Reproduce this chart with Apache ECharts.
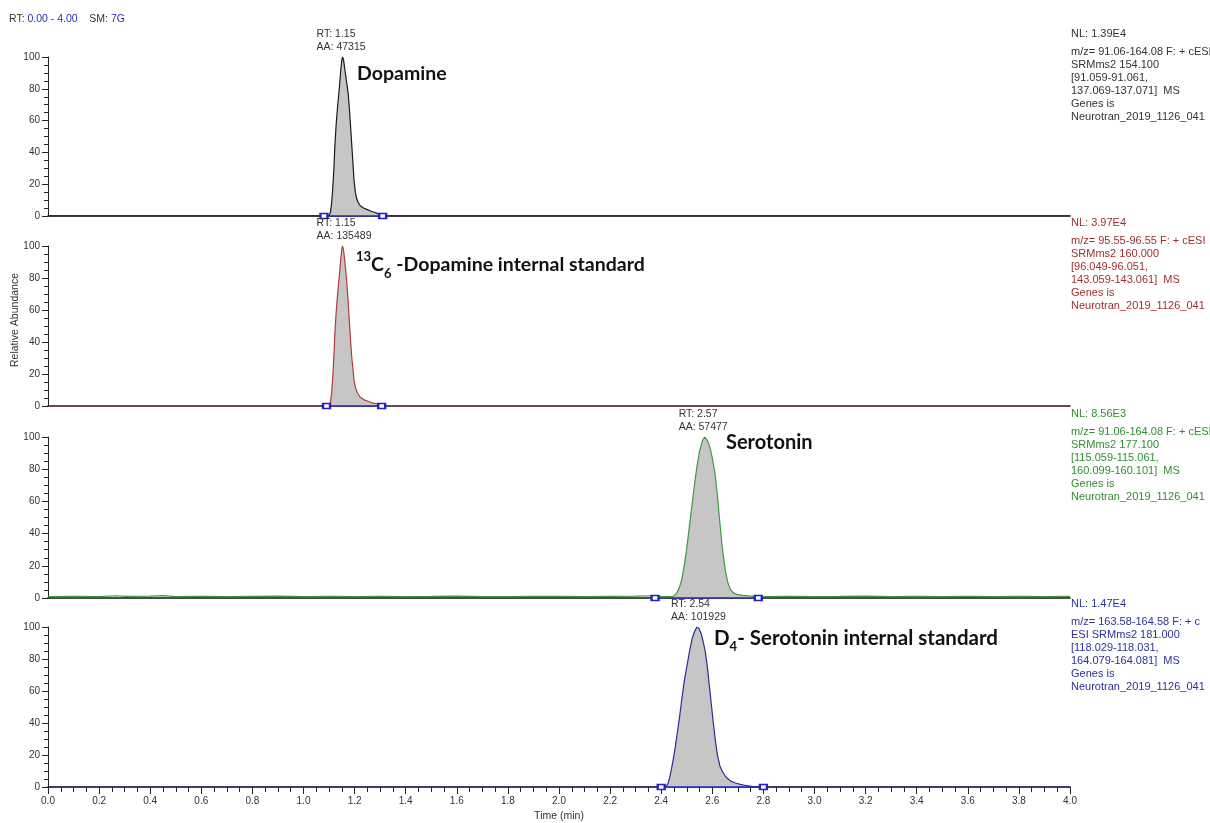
<!DOCTYPE html>
<html>
<head>
<meta charset="utf-8">
<script src="https://cdn.jsdelivr.net/npm/echarts@6/dist/echarts.min.js"></script>
<style>
html,body{margin:0;padding:0;background:#fff;}
#chart{width:1210px;height:823px;}
</style>
</head>
<body>
<div id="chart"></div>
<script>
// ---------------- data ----------------
const xTickLabels = ['0.0','0.2','0.4','0.6','0.8','1.0','1.2','1.4','1.6','1.8','2.0','2.2','2.4','2.6','2.8','3.0','3.2','3.4','3.6','3.8','4.0'];
const yTickLabels = ['0','20','40','60','80','100'];

const dopamineTrace = [[0,0],[1.098,0],[1.105,2],[1.110,8],[1.114,16],[1.119,30],[1.123,45],[1.128,58],[1.134,70],[1.140,80],[1.146,92],[1.150,98],[1.153,100],[1.157,98],[1.162,92],[1.168,85],[1.175,77],[1.181,64],[1.186,52],[1.190,42],[1.194,32],[1.198,22],[1.203,15],[1.208,11],[1.214,8.5],[1.222,6.5],[1.235,5],[1.250,4],[1.265,3],[1.280,2.2],[1.292,1.5],[1.302,0.8],[1.315,0],[4,0]];

const dopamineISTrace = [[0,0],[1.098,0],[1.105,2],[1.110,8],[1.114,17],[1.119,31],[1.123,46],[1.128,59],[1.134,71],[1.140,81],[1.146,92],[1.150,98],[1.153,100],[1.157,97],[1.162,90],[1.168,80],[1.174,67],[1.179,54],[1.183,44],[1.188,32],[1.193,24],[1.198,16],[1.204,11],[1.212,8],[1.222,5.5],[1.235,4],[1.252,3],[1.268,2],[1.286,1.4],[1.300,0.6],[1.312,0],[4,0]];

const serotoninTrace = [[0,0.9],[0.1,1.0],[0.2,0.8],[0.27,1.4],[0.3,1.0],[0.4,1.2],[0.45,1.5],[0.5,0.9],[0.6,1.1],[0.7,0.8],[0.8,1.0],[0.9,1.2],[1.0,0.9],[1.1,1.0],[1.2,0.8],[1.3,1.1],[1.4,0.9],[1.5,1.0],[1.6,1.2],[1.7,0.8],[1.8,0.9],[1.9,1.1],[2.0,1.0],[2.1,0.8],[2.2,1.0],[2.3,1.2],[2.37,1.4],[2.40,1.0],[2.44,0.8],[2.450,1.2],[2.460,3],[2.470,6],[2.480,11],[2.490,20],[2.500,31],[2.510,44],[2.520,57],[2.530,70],[2.540,82],[2.550,91],[2.560,97],[2.570,100],[2.580,98],[2.590,94],[2.600,87],[2.610,78],[2.620,64],[2.630,46],[2.640,30],[2.650,18],[2.660,10],[2.670,5.5],[2.680,3.5],[2.690,2.6],[2.700,2.1],[2.720,1.6],[2.740,1.3],[2.760,1.2],[2.780,1.0],[2.80,0.8],[2.9,1.1],[3.0,0.9],[3.1,1.0],[3.2,1.2],[3.3,0.8],[3.4,1.0],[3.5,0.9],[3.6,1.1],[3.7,0.8],[3.8,1.0],[3.9,0.9],[4.0,1.0]];

const serotoninISTrace = [[0,0],[2.415,0],[2.425,1.5],[2.432,5],[2.440,11],[2.448,18],[2.456,26],[2.464,35],[2.472,44],[2.480,54],[2.490,66],[2.500,75],[2.510,84],[2.520,92],[2.530,97],[2.540,100],[2.548,99],[2.556,96],[2.564,91],[2.572,85],[2.580,76],[2.588,64],[2.596,52],[2.604,40],[2.612,29],[2.620,20],[2.630,13],[2.640,9.5],[2.650,7],[2.662,5],[2.675,3.5],[2.690,2.5],[2.710,1.6],[2.735,0.8],[2.760,0.3],[2.780,0],[4,0]];

const peakRT = [1.15, 1.15, 2.57, 2.54];
const peakApex = [1.153, 1.153, 2.570, 2.540];
const peakArea = [47315, 135489, 57477, 101929];
const integrationStart = [1.08, 1.09, 2.376, 2.40];
const integrationEnd = [1.31, 1.306, 2.78, 2.80];

const compoundNames = ['Dopamine', '13C6 -Dopamine internal standard', 'Serotonin', 'D4- Serotonin internal standard'];
const nlValues = ['1.39E4', '3.97E4', '8.56E3', '1.47E4'];
const scanInfo = [
  ['m/z= 91.06-164.08 F: + cESI', 'SRMms2 154.100', '[91.059-91.061,', '137.069-137.071]  MS', 'Genes is', 'Neurotran_2019_1126_041'],
  ['m/z= 95.55-96.55 F: + cESI', 'SRMms2 160.000', '[96.049-96.051,', '143.059-143.061]  MS', 'Genes is', 'Neurotran_2019_1126_041'],
  ['m/z= 91.06-164.08 F: + cESI', 'SRMms2 177.100', '[115.059-115.061,', '160.099-160.101]  MS', 'Genes is', 'Neurotran_2019_1126_041'],
  ['m/z= 163.58-164.58 F: + c', 'ESI SRMms2 181.000', '[118.029-118.031,', '164.079-164.081]  MS', 'Genes is', 'Neurotran_2019_1126_041']
];
const traces = [dopamineTrace, dopamineISTrace, serotoninTrace, serotoninISTrace];

// ---------------- layout / styles ----------------
const traceColors = ['#1a1a1a', '#b03c3c', '#3c9a3c', '#2b2b9c'];
const infoColors = ['#333333', '#9c2f2f', '#2f8f2f', '#2f2f9c'];
const gridTops = [57, 246, 437, 627];
const gridHeights = [159, 160, 161, 160];
const smallFont = 'Liberation Sans, Arial, sans-serif';
const titleFont = 'Lato, "Open Sans", sans-serif';

const chart = echarts.init(document.getElementById('chart'));

const grids = [], xAxes = [], yAxes = [], series = [], graphics = [];

for (let i = 0; i < 4; i++) {
  grids.push({left: 48, right: 140, top: gridTops[i], height: gridHeights[i], containLabel: false});
  const isBottom = i === 3;
  xAxes.push({
    type: 'value', gridIndex: i, min: 0, max: 4, interval: 0.2,
    axisLine: {show: true, onZero: false, lineStyle: {color: '#111', width: 1.6}},
    axisTick: {show: isBottom, length: 7, lineStyle: {color: '#222', width: 1}},
    minorTick: {show: isBottom, splitNumber: 4, length: 5, lineStyle: {color: '#222', width: 1}},
    axisLabel: {show: isBottom, fontSize: 10, color: '#333', fontFamily: smallFont, margin: 9,
      formatter: (v) => xTickLabels[Math.round(v / 0.2)] || ''},
    splitLine: {show: false},
    name: isBottom ? 'Time (min)' : '', nameLocation: 'middle', nameGap: 24,
    nameTextStyle: {fontSize: 10.5, color: '#333', fontFamily: smallFont}
  });
  yAxes.push({
    type: 'value', gridIndex: i, min: 0, max: 100, interval: 20,
    axisLine: {show: true, lineStyle: {color: '#222', width: 1}},
    axisTick: {show: true, length: 6, lineStyle: {color: '#222'}},
    minorTick: {show: true, splitNumber: 4, length: 4, lineStyle: {color: '#222'}},
    axisLabel: {fontSize: 10, color: '#333', fontFamily: smallFont, margin: 8,
      formatter: (v) => yTickLabels[Math.round(v / 20)]},
    splitLine: {show: false}
  });

  const tr = traces[i];
  const fillData = tr.filter(p => p[0] >= integrationStart[i] && p[0] <= integrationEnd[i]);
  fillData.unshift([integrationStart[i], 0]);
  fillData.push([integrationEnd[i], 0]);
  series.push({
    type: 'line', xAxisIndex: i, yAxisIndex: i, data: fillData, symbol: 'none',
    lineStyle: {width: 0}, areaStyle: {color: '#c6c6c6', opacity: 1}, silent: true, z: 1
  });
  series.push({
    type: 'line', xAxisIndex: i, yAxisIndex: i, data: tr, symbol: 'none',
    lineStyle: {color: traceColors[i], width: 1.2}, z: 3, silent: true,
    markPoint: {
      symbol: 'rect', symbolSize: 0, silent: true,
      data: [{coord: [peakApex[i], 100]}],
      label: {show: true, position: 'top', distance: 3, color: '#333', fontSize: 10.5, lineHeight: 13,
        fontFamily: smallFont, align: 'left', offset: [-26, 0],
        formatter: 'RT: ' + peakRT[i].toFixed(2) + '\nAA: ' + peakArea[i]}
    }
  });
  series.push({
    type: 'line', xAxisIndex: i, yAxisIndex: i,
    data: [[integrationStart[i], 0], [integrationEnd[i], 0]],
    symbol: 'emptyRect', symbolSize: [7, 5], showSymbol: true,
    itemStyle: {color: '#2222cc', borderWidth: 1.2},
    lineStyle: {color: '#2222cc', width: 1.5}, z: 4, silent: true
  });

  // right-hand info block
  graphics.push({type: 'text', left: 1071, top: gridTops[i] - 29,
    style: {text: 'NL: ' + nlValues[i], fill: infoColors[i], font: '11px ' + smallFont}});
  graphics.push({type: 'text', left: 1071, top: gridTops[i] - 12,
    style: {text: scanInfo[i].join('\n'), fill: infoColors[i], font: '11px ' + smallFont, lineHeight: 13}});
}

// compound titles
graphics.push({type: 'text', left: 357, top: 64, style: {text: compoundNames[0], fill: '#111', font: 'bold 19.5px ' + titleFont}});
graphics.push({type: 'text', left: 356, top: 250, style: {
  text: '{sup|13}{b|C}{sub|6}{b| -Dopamine internal standard}',
  rich: {
    b: {fontSize: 19.5, fontWeight: 'bold', fontFamily: titleFont, fill: '#111', lineHeight: 30, verticalAlign: 'middle'},
    sup: {fontSize: 13, fontWeight: 'bold', fontFamily: titleFont, fill: '#111', lineHeight: 15, verticalAlign: 'top'},
    sub: {fontSize: 13, fontWeight: 'bold', fontFamily: titleFont, fill: '#111', lineHeight: 15, verticalAlign: 'bottom'}
  }}});
graphics.push({type: 'text', left: 726, top: 433, style: {text: compoundNames[2], fill: '#111', font: 'bold 20px ' + titleFont}});
graphics.push({type: 'text', left: 714, top: 628, style: {
  text: '{b|D}{sub|4}{b|- Serotonin internal standard}',
  rich: {
    b: {fontSize: 20.5, fontWeight: 'bold', fontFamily: titleFont, fill: '#111', lineHeight: 30, verticalAlign: 'middle'},
    sub: {fontSize: 13, fontWeight: 'bold', fontFamily: titleFont, fill: '#111', lineHeight: 15, verticalAlign: 'bottom'}
  }}});

// header and y-axis name
graphics.push({type: 'text', left: 9, top: 14, style: {
  text: '{k|RT: }{v|0.00 - 4.00}{k|    SM: }{v|7G}',
  rich: {k: {fill: '#333', fontSize: 10.5, fontFamily: smallFont}, v: {fill: '#2b2bb0', fontSize: 10.5, fontFamily: smallFont}}
}});
graphics.push({type: 'text', x: 15, y: 320, rotation: Math.PI / 2, style: {
  text: 'Relative Abundance', fill: '#333', font: '10.5px ' + smallFont, align: 'center', verticalAlign: 'middle'}});

chart.setOption({
  animation: false,
  backgroundColor: '#ffffff',
  grid: grids, xAxis: xAxes, yAxis: yAxes, series: series, graphic: graphics
});
</script>
</body>
</html>
